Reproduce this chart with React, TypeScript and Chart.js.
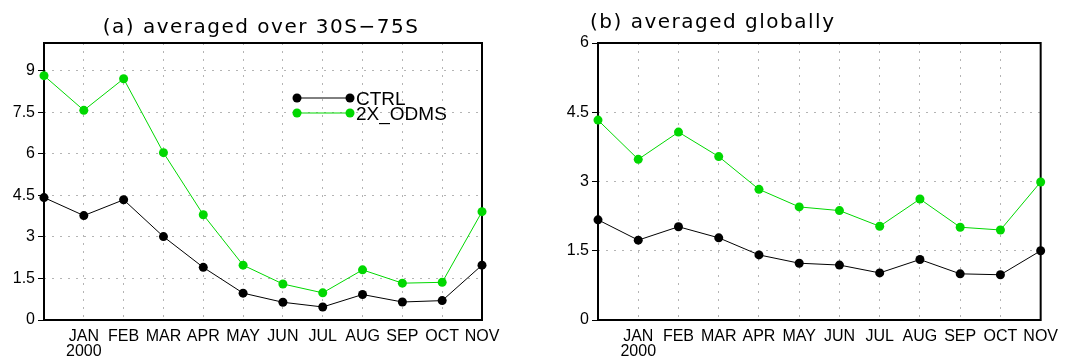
import React, { useEffect, useRef } from "react";
import { Chart, registerables } from "chart.js";

Chart.register(...registerables);

const MONTH_LABELS: (string | string[])[] = ["", ["JAN", "2000"], "FEB", "MAR", "APR", "MAY", "JUN", "JUL", "AUG", "SEP", "OCT", "NOV"];
const SERIES_NAMES = ["CTRL", "2X_ODMS"];
const CTRL_A = [4.42, 3.77, 4.34, 3.01, 1.9, 0.97, 0.64, 0.47, 0.92, 0.65, 0.7, 1.98];
const ODMS_A = [8.82, 7.57, 8.71, 6.04, 3.8, 1.98, 1.3, 0.98, 1.81, 1.33, 1.36, 3.91];
const CTRL_B = [2.17, 1.73, 2.02, 1.78, 1.41, 1.23, 1.19, 1.02, 1.31, 1.0, 0.98, 1.5];
const ODMS_B = [4.33, 3.48, 4.07, 3.54, 2.83, 2.45, 2.37, 2.03, 2.62, 2.01, 1.95, 2.99];
const TITLE_A = "(a) averaged over 30S\u221275S";
const TITLE_B = "(b) averaged globally";
const Y_MAX_A = 10;
const Y_MAX_B = 6;
const Y_STEP = 1.5;

const FONT = "'Liberation Sans', 'DejaVu Sans', sans-serif";
const BLACK = "#000000";
const GREEN = "#00d800";
const GRID = "#b4b4b4";

type PanelCfg = {
  ctrl: number[];
  odms: number[];
  yMax: number;
  title: string;
  titleX: number;
  titleY: number;
  titleAlign: CanvasTextAlign;
  axisWidth: number;
  padRight: number;
  legend: boolean;
};

function makeChart(canvas: HTMLCanvasElement, cfg: PanelCfg) {
  const framePlugin = {
    id: "frame",
    beforeDatasetsDraw(chart: any) {
      const { ctx, chartArea: a } = chart;
      ctx.save();
      ctx.strokeStyle = BLACK;
      ctx.lineWidth = 2;
      ctx.setLineDash([]);
      ctx.strokeRect(a.left, a.top, a.right - a.left, a.bottom - a.top);
      ctx.restore();
    },
  };
  const titlePlugin = {
    id: "titleText",
    afterDraw(chart: any) {
      const ctx = chart.ctx;
      ctx.save();
      ctx.fillStyle = BLACK;
      ctx.font = `20px 'DejaVu Sans', sans-serif`;
      (ctx as any).letterSpacing = "1.5px";
      ctx.textAlign = cfg.titleAlign;
      ctx.textBaseline = "alphabetic";
      ctx.fillText(cfg.title, cfg.titleX, cfg.titleY);
      ctx.restore();
      if (cfg.legend) {
        const items = chart.data.datasets;
        const x0 = 297;
        const x1 = 350;
        const ys = [98, 113];
        ctx.save();
        items.forEach((ds: any, i: number) => {
          const y = ys[i];
          ctx.strokeStyle = ds.borderColor;
          ctx.fillStyle = ds.backgroundColor;
          ctx.lineWidth = 1;
          ctx.setLineDash([]);
          ctx.beginPath();
          ctx.moveTo(x0, y);
          ctx.lineTo(x1, y);
          ctx.stroke();
          [x0, x1].forEach((x) => {
            ctx.beginPath();
            ctx.arc(x, y, 4.5, 0, Math.PI * 2);
            ctx.fill();
          });
          ctx.fillStyle = BLACK;
          ctx.font = `19px ${FONT}`;
          ctx.textAlign = "left";
          ctx.textBaseline = "alphabetic";
          ctx.fillText(ds.label, 356, y + 7);
        });
        ctx.restore();
      }
    },
  };

  return new Chart(canvas, {
    type: "line",
    data: {
      labels: MONTH_LABELS,
      datasets: [
        {
          label: SERIES_NAMES[0],
          data: cfg.ctrl,
          borderColor: BLACK,
          backgroundColor: BLACK,
          borderWidth: 1,
          pointRadius: 4.5,
          pointHoverRadius: 4.5,
          pointBorderWidth: 0,
          clip: false as any,
        },
        {
          label: SERIES_NAMES[1],
          data: cfg.odms,
          borderColor: GREEN,
          backgroundColor: GREEN,
          borderWidth: 1,
          pointRadius: 4.5,
          pointHoverRadius: 4.5,
          pointBorderWidth: 0,
          clip: false as any,
        },
      ],
    },
    options: {
      animation: false,
      responsive: false,
      devicePixelRatio: 1,
      events: [],
      layout: { padding: { top: 43, right: cfg.padRight, left: 0, bottom: 0 } },
      plugins: { legend: { display: false }, tooltip: { enabled: false }, title: { display: false } },
      scales: {
        x: {
          offset: false,
          grid: {
            color: GRID,
            lineWidth: 1,
            drawTicks: false,
          } as any,
          border: { display: false, dash: [2, 6] } as any,
          ticks: {
            autoSkip: false,
            maxRotation: 0,
            minRotation: 0,
            padding: 9,
            color: BLACK,
            font: { family: FONT, size: 16, lineHeight: 0.95 },
          },
          afterFit(scale: any) {
            scale.height = 44;
          },
        },
        y: {
          min: 0,
          max: cfg.yMax,
          grid: {
            color: GRID,
            lineWidth: 1,
            tickLength: 6,
            tickColor: BLACK,
            tickBorderDash: [] as any,
          } as any,
          border: { display: false, dash: [2, 6] } as any,
          ticks: {
            stepSize: Y_STEP,
            padding: 3,
            color: BLACK,
            font: { family: FONT, size: 16 },
            callback: (v: any) => String(v),
          },
          afterBuildTicks(scale: any) {
            scale.ticks = scale.ticks.filter((t: any) => Math.abs(t.value / Y_STEP - Math.round(t.value / Y_STEP)) < 1e-6);
          },
          afterFit(scale: any) {
            scale.width = cfg.axisWidth;
          },
        },
      },
    },
    plugins: [framePlugin, titlePlugin],
  });
}

function Panel({ cfg, left, width }: { cfg: PanelCfg; left: number; width: number }) {
  const ref = useRef<HTMLCanvasElement | null>(null);
  useEffect(() => {
    if (!ref.current) return;
    const chart = makeChart(ref.current, cfg);
    return () => chart.destroy();
  }, []);
  return (
    <canvas
      ref={ref}
      width={width}
      height={364}
      style={{ position: "absolute", left, top: 0, width, height: 364 }}
    />
  );
}

export default function App() {
  const cfgA: PanelCfg = {
    ctrl: CTRL_A,
    odms: ODMS_A,
    yMax: Y_MAX_A,
    title: TITLE_A,
    titleX: 261,
    titleY: 33,
    titleAlign: "center",
    axisWidth: 44,
    padRight: 58,
    legend: true,
  };
  const cfgB: PanelCfg = {
    ctrl: CTRL_B,
    odms: ODMS_B,
    yMax: Y_MAX_B,
    title: TITLE_B,
    titleX: 50,
    titleY: 28,
    titleAlign: "left",
    axisWidth: 58,
    padRight: 20,
    legend: false,
  };
  return (
    <div style={{ position: "fixed", left: 0, top: 0, width: 1067, height: 364, background: "#fff", overflow: "hidden" }}>
      <Panel cfg={cfgA} left={0} width={540} />
      <Panel cfg={cfgB} left={540} width={527} />
    </div>
  );
}
